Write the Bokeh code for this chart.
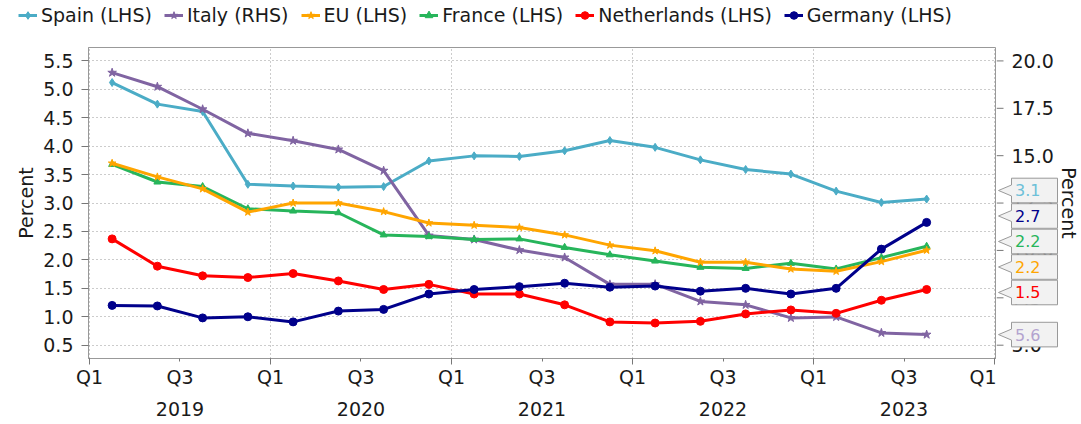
import numpy as np
from bokeh.plotting import figure
from bokeh.layouts import row, column
from bokeh.models import (Range1d, LinearAxis, FixedTicker, NumeralTickFormatter,
                          CustomJSTickFormatter, Legend, LegendItem)
from bokeh.embed import file_html
from bokeh.resources import INLINE

# ---------------- data ----------------
quarters = ["2019Q1", "2019Q2", "2019Q3", "2019Q4",
            "2020Q1", "2020Q2", "2020Q3", "2020Q4",
            "2021Q1", "2021Q2", "2021Q3", "2021Q4",
            "2022Q1", "2022Q2", "2022Q3", "2022Q4",
            "2023Q1", "2023Q2", "2023Q3"]

spain = [5.12, 4.74, 4.61, 3.33, 3.30, 3.28, 3.29, 3.74, 3.83, 3.82,
         3.92, 4.10, 3.98, 3.76, 3.59, 3.51, 3.21, 3.01, 3.07]
italy_rhs = [19.38, 18.64, 17.45, 16.18, 15.79, 15.33, 14.21, 10.79, 10.58, 10.02,
             9.63, 8.21, 8.22, 7.31, 7.13, 6.44, 6.49, 5.65, 5.56]
eu = [3.70, 3.46, 3.25, 2.84, 3.00, 3.00, 2.85, 2.65, 2.61, 2.57,
      2.44, 2.26, 2.16, 1.96, 1.96, 1.84, 1.80, 1.97, 2.17]
france = [3.68, 3.37, 3.29, 2.90, 2.86, 2.83, 2.44, 2.41, 2.36, 2.37,
          2.22, 2.09, 1.98, 1.87, 1.85, 1.94, 1.84, 2.04, 2.24]
netherlands = [2.37, 1.89, 1.72, 1.69, 1.76, 1.63, 1.48, 1.57, 1.40, 1.40,
               1.21, 0.91, 0.89, 0.92, 1.05, 1.12, 1.06, 1.29, 1.48]
germany = [1.20, 1.19, 0.98, 1.00, 0.91, 1.10, 1.13, 1.40, 1.48, 1.53,
           1.59, 1.52, 1.54, 1.45, 1.50, 1.40, 1.50, 2.19, 2.66]

left_ticks = [0.5, 1.0, 1.5, 2.0, 2.5, 3.0, 3.5, 4.0, 4.5, 5.0, 5.5]
right_ticks = [5.0, 7.5, 10.0, 12.5, 15.0, 17.5, 20.0]
x_tick_pos = [2019.0, 2019.5, 2020.0, 2020.5, 2021.0, 2021.5, 2022.0, 2022.5,
              2023.0, 2023.5, 2024.0]
x_tick_labels = ["Q1", "Q3", "Q1", "Q3", "Q1", "Q3", "Q1", "Q3", "Q1", "Q3", "Q1"]
year_pos = [2019.5, 2020.5, 2021.5, 2022.5, 2023.5]
year_labels = ["2019", "2020", "2021", "2022", "2023"]

series_names = ["Spain (LHS)", "Italy (RHS)", "EU (LHS)", "France (LHS)",
                "Netherlands (LHS)", "Germany (LHS)"]
colors = ["#4BACC6", "#8064A2", "#FFA500", "#27B55B", "#FF0000", "#00008B"]
label_colors = ["#6CC0D8", "#B3A3CF", "#FFA500", "#27B55B", "#FF0000", "#00008B"]
markers = ["diamond", "star", "star", "triangle", "circle", "circle"]
marker_sizes = [8, 9, 8, 7, 8, 8]
draw_order = [0, 1, 3, 2, 4, 5]


def qx(q):
    return int(q[:4]) + (int(q[-1]) - 1) / 4 + 0.125


xs = [qx(q) for q in quarters]
series = [spain, italy_rhs, eu, france, netherlands, germany]

# ---------------- geometry / style ----------------
FONT = "DejaVu Sans"
LEG_H = 30                    # legend strip height
H = 423 - LEG_H               # main plot height
BL, BT, BB = 88, 47 - LEG_H, 65
FRAME_W = 908
WB = 84                       # width of the right-hand strip (axis + callouts)
frame_h = H - BT - BB

x0, x1 = 2018.9945, 2024.011
y0, y1 = 0.266, 5.736
r0, r1 = 3 * y0 + 3.5, 3 * y1 + 3.5

y_range = Range1d(y0, y1)
rhs_range = Range1d(r0, r1)

p = figure(width=BL + FRAME_W, height=H, output_backend="svg", toolbar_location=None,
           x_range=Range1d(x0, x1), y_range=y_range,
           min_border_left=BL, min_border_right=0, min_border_top=BT, min_border_bottom=BB)
p.extra_y_ranges = {"rhs": rhs_range}
p.background_fill_color = "white"
p.border_fill_color = "white"
p.outline_line_color = "#999999"

# grids
p.xgrid.ticker = FixedTicker(ticks=x_tick_pos[::2])
p.ygrid.ticker = FixedTicker(ticks=left_ticks)
for g in (p.xgrid, p.ygrid):
    g.grid_line_color = "#999999"
    g.grid_line_dash = "1 3"
    g.grid_line_width = 1

js_lookup = """
    for (let i = 0; i < pos.length; i++) { if (Math.abs(pos[i] - tick) < 1e-6) return labels[i]; }
    return '';
"""

# x axis (quarters)
xa = p.xaxis[0]
xa.ticker = FixedTicker(ticks=x_tick_pos, minor_ticks=x_tick_pos[::2])
xa.formatter = CustomJSTickFormatter(args=dict(pos=x_tick_pos, labels=x_tick_labels), code=js_lookup)
xa.major_tick_out = 3
xa.major_tick_in = 0
xa.minor_tick_out = 6
xa.minor_tick_in = 0
xa.major_label_standoff = 1

# x axis (years)
xa2 = LinearAxis(ticker=FixedTicker(ticks=year_pos),
                 formatter=CustomJSTickFormatter(args=dict(pos=year_pos, labels=year_labels),
                                                 code=js_lookup))
xa2.major_tick_out = 0
xa2.major_tick_in = 0
xa2.minor_tick_out = 0
xa2.minor_tick_in = 0
xa2.axis_line_color = None
xa2.major_label_standoff = 11
p.add_layout(xa2, "below")

# left axis
la = p.yaxis[0]
la.ticker = FixedTicker(ticks=left_ticks)
la.formatter = NumeralTickFormatter(format="0.0")
la.axis_label = "Percent"
la.major_label_standoff = 8
la.axis_label_standoff = 3
la.major_tick_out = 7
la.major_tick_in = 0
la.minor_tick_out = 0
la.minor_tick_in = 0

for ax in (xa, xa2, la):
    ax.major_label_text_font = FONT
    ax.major_label_text_font_size = "19px"
    ax.major_label_text_color = "#1a1a1a"
    ax.axis_label_text_font = FONT
    ax.axis_label_text_font_style = "normal"
    ax.axis_label_text_font_size = "19px"
    ax.axis_label_text_color = "#1a1a1a"
for ax in (xa, la):
    ax.axis_line_color = "#999999"
    ax.major_tick_line_color = "#777777"
    ax.minor_tick_line_color = "#777777"

# ---------------- series ----------------
for i in draw_order:
    name, ys, c, m, ms = series_names[i], series[i], colors[i], markers[i], marker_sizes[i]
    kw = {"y_range_name": "rhs"} if "RHS" in name else {}
    p.line(xs, ys, line_color=c, line_width=3, **kw)
    p.scatter(xs, ys, marker=m, size=ms, fill_color=c, line_color=c, **kw)

# ---------------- legend strip (own canvas so nothing is clipped) ----------------
lf = figure(width=BL + FRAME_W + WB, height=LEG_H, output_backend="svg", toolbar_location=None,
            x_range=Range1d(0, 1), y_range=Range1d(0, 1),
            x_axis_location=None, y_axis_location=None, min_border=0)
lf.outline_line_color = None
lf.grid.visible = False
lf.border_fill_color = "white"
items = []
for name, ys, c, m, ms in zip(series_names, series, colors, markers, marker_sizes):
    ln = lf.line(xs, ys, line_color=c, line_width=3)
    sc = lf.scatter(xs, ys, marker=m, size=ms, fill_color=c, line_color=c)
    items.append(LegendItem(label=name, renderers=[ln, sc]))
legend = Legend(items=items, orientation="horizontal", location=(18, 4),
                label_text_font=FONT, label_text_font_size="19px", label_text_color="#1a1a1a",
                glyph_width=19, glyph_height=20, label_height=20, label_standoff=4,
                spacing=12, padding=0, margin=0, border_line_color=None,
                background_fill_alpha=0)
lf.add_layout(legend, "center")

# ---------------- right strip: RHS axis + end-value callouts ----------------
q = figure(width=WB, height=H, output_backend="svg", toolbar_location=None,
           x_range=Range1d(0, WB), y_range=y_range,
           x_axis_location=None, y_axis_location=None,
           min_border_left=0, min_border_right=0, min_border_top=BT, min_border_bottom=BB)
q.extra_y_ranges = {"rhs": rhs_range}
q.outline_line_color = None
q.background_fill_color = "white"
q.border_fill_color = "white"
q.grid.visible = False

# RHS axis ticks and labels (x measured in pixels from the main frame's right edge)
q.segment(x0=[0] * len(right_ticks), y0=right_ticks, x1=[7] * len(right_ticks), y1=right_ticks,
          line_color="#777777", line_width=1, y_range_name="rhs")
q.text(x=[15] * len(right_ticks), y=right_ticks, text=[f"{t:.1f}" for t in right_ticks],
       text_font_size="19px", text_color="#1a1a1a", text_baseline="middle", text_align="left",
       text_font={"value": FONT}, y_range_name="rhs")
q.text(x=[72], y=[(y0 + y1) / 2], text=["Percent"], angle=-np.pi / 2,
       text_font_size="19px", text_color="#1a1a1a", text_baseline="middle", text_align="center",
       text_font={"value": FONT})

px_per_unit = frame_h / (y1 - y0)


def to_left(v, rhs):
    return (v - r0) / (r1 - r0) * (y1 - y0) + y0 if rhs else v


targets = [to_left(s[-1], "RHS" in n) for s, n in zip(series, series_names)]
gap = 25.5 / px_per_unit


def distribute(t, g):
    order = sorted(range(len(t)), key=lambda i: -t[i])
    clusters = [[i] for i in order]

    def place(cl):
        c = float(np.mean([t[i] for i in cl]))
        n = len(cl)
        return [c + g * ((n - 1) / 2 - k) for k in range(n)]

    changed = True
    while changed:
        changed = False
        for j in range(len(clusters) - 1):
            a, b = place(clusters[j]), place(clusters[j + 1])
            if a[-1] - b[0] < g - 1e-9:
                clusters[j] = clusters[j] + clusters[j + 1]
                del clusters[j + 1]
                changed = True
                break
    out = {}
    for cl in clusters:
        for i, pp in zip(cl, place(cl)):
            out[i] = pp
    return [out[i] for i in range(len(t))]


label_y = distribute(targets, gap)
tip, bl, br = 2, 15, 61
half = 12.3 / px_per_unit
notch = 5.5 / px_per_unit
pxs, pys = [], []
for cy in label_y:
    pxs.append([tip, bl, bl, br, br, bl, bl])
    pys.append([cy, cy - notch, cy - half, cy - half, cy + half, cy + half, cy + notch])
q.patches(pxs, pys, fill_color="#F2F2F2", line_color="#999999", line_width=1)
q.text(x=[bl + 3.5] * len(series), y=label_y, text=[f"{s[-1]:.1f}" for s in series],
       text_color=label_colors, text_font_size="16px", text_baseline="middle",
       text_align="left", text_font={"value": FONT})

layout = column(lf, row(p, q, spacing=0), spacing=0)
open("out.html", "w").write(file_html(layout, INLINE))
